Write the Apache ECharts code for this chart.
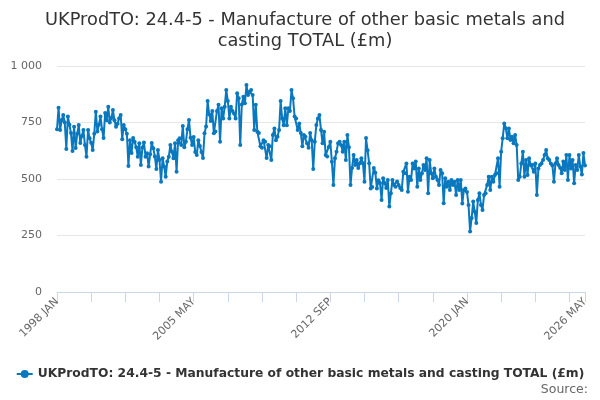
<!DOCTYPE html>
<html lang="en">
<head>
    <meta charset="UTF-8">
    <title>UKProdTO: 24.4-5</title>
    <script src="https://cdn.jsdelivr.net/npm/echarts@6/dist/echarts.min.js"></script>
    <style>
        html, body { margin: 0; padding: 0; background: #fff; }
        #chart { width: 600px; height: 400px; }
    </style>
</head>
<body>
    <div id="chart"></div>
    <script>
        const seriesName = 'UKProdTO: 24.4-5 - Manufacture of other basic metals and casting TOTAL (£m)';
        const monthNames = ['JAN', 'FEB', 'MAR', 'APR', 'MAY', 'JUN', 'JUL', 'AUG', 'SEP', 'OCT', 'NOV', 'DEC'];
        const firstYear = 1998;

        // monthly values (£m), one array per year
        const y1998 = [720, 815, 717, 760, 783, 750, 633, 776, 740, 703, 624, 731];
        const y1999 = [637, 700, 739, 659, 690, 717, 650, 599, 717, 680, 660, 628];
        const y2000 = [700, 798, 710, 740, 776, 720, 681, 792, 760, 820, 750, 770];
        const y2001 = [805, 760, 731, 745, 769, 783, 676, 739, 720, 700, 557, 672];
        const y2002 = [615, 681, 665, 640, 599, 658, 562, 639, 661, 599, 614, 555];
        const y2003 = [610, 659, 636, 600, 544, 628, 584, 488, 592, 555, 510, 577];
        const y2004 = [599, 650, 621, 592, 658, 532, 672, 680, 650, 735, 640, 665];
        const y2005 = [720, 761, 682, 650, 686, 620, 606, 672, 646, 620, 593, 702];
        const y2006 = [732, 845, 786, 757, 801, 702, 710, 801, 828, 665, 813, 768];
        const y2007 = [820, 894, 845, 768, 820, 801, 790, 768, 879, 857, 650, 830];
        const y2008 = [864, 835, 916, 872, 886, 894, 872, 717, 828, 709, 703, 645];
        const y2009 = [638, 672, 665, 593, 650, 645, 584, 695, 724, 672, 687, 717];
        const y2010 = [845, 768, 738, 813, 738, 813, 801, 894, 857, 776, 768, 717];
        const y2011 = [746, 703, 645, 695, 687, 658, 638, 703, 672, 544, 665, 739];
        const y2012 = [768, 783, 717, 658, 709, 606, 600, 642, 665, 576, 473, 592];
        const y2013 = [621, 658, 665, 650, 621, 665, 584, 695, 640, 473, 549, 606];
        const y2014 = [562, 584, 549, 570, 592, 570, 488, 681, 627, 570, 458, 465];
        const y2015 = [549, 528, 458, 495, 482, 407, 503, 482, 460, 496, 378, 437];
        const y2016 = [496, 474, 466, 489, 474, 460, 451, 532, 525, 569, 444, 510];
        const y2017 = [496, 569, 547, 577, 466, 547, 496, 525, 562, 540, 592, 437];
        const y2018 = [584, 525, 503, 547, 510, 496, 474, 540, 525, 393, 503, 466];
        const y2019 = [488, 451, 496, 474, 488, 429, 496, 451, 496, 392, 451, 458];
        const y2020 = [443, 385, 268, 327, 400, 355, 305, 407, 437, 385, 363, 429];
        const y2021 = [437, 474, 510, 451, 510, 488, 518, 525, 592, 466, 621, 680];
        const y2022 = [746, 725, 680, 724, 673, 687, 658, 695, 650, 496, 510, 569];
        const y2023 = [621, 510, 584, 518, 592, 562, 562, 532, 569, 429, 547, 562];
        const y2024 = [569, 584, 606, 628, 592, 584, 569, 560, 488, 569, 592, 562];
        const y2025 = [550, 525, 577, 540, 606, 496, 606, 547, 584, 481, 562, 540];
        const y2026 = [606, 555, 520, 615, 560];

        const years = [y1998, y1999, y2000, y2001, y2002, y2003, y2004, y2005, y2006, y2007,
            y2008, y2009, y2010, y2011, y2012, y2013, y2014, y2015, y2016, y2017,
            y2018, y2019, y2020, y2021, y2022, y2023, y2024, y2025, y2026];

        const yTicks = [0, 250, 500, 750, 1000];

        let categories = [];
        let values = [];
        years.forEach((arr, k) => {
            arr.forEach((v, m) => {
                categories.push((firstYear + k) + ' ' + monthNames[m]);
                values.push(v);
            });
        });
        const last = categories.length - 1;

        const font = 'DejaVu Sans';
        const chart = echarts.init(document.getElementById('chart'));
        chart.setOption({
            animation: false,
            title: [{
                text: 'UKProdTO: 24.4-5 - Manufacture of other basic metals and\ncasting TOTAL (£m)',
                left: 300,
                top: 5,
                textAlign: 'center',
                textStyle: { fontFamily: font, fontSize: 17.8, fontWeight: 'normal', color: '#333333', lineHeight: 21 }
            }, {
                text: 'Source:',
                right: 12,
                bottom: 4,
                padding: 0,
                textStyle: { fontFamily: font, fontSize: 12.5, fontWeight: 'normal', color: '#666666' }
            }],
            legend: {
                bottom: 15,
                left: 'center',
                itemWidth: 16,
                itemHeight: 10,
                itemGap: 8,
                textStyle: { fontFamily: font, fontSize: 12.3, fontWeight: 'bold', color: '#333333' },
                data: [seriesName]
            },
            grid: { left: 57, right: 15, top: 66, bottom: 108, containLabel: false },
            xAxis: {
                type: 'category',
                data: categories,
                boundaryGap: false,
                axisLine: { lineStyle: { color: '#ccd6eb' } },
                axisTick: {
                    length: 10,
                    lineStyle: { color: '#ccd6eb' },
                    interval: (i) => i % 22 === 0 || i === last
                },
                axisLabel: {
                    rotate: 45,
                    margin: 8,
                    color: '#666666',
                    fontFamily: font,
                    fontSize: 11,
                    interval: (i) => i % 88 === 0 || i === last
                },
                splitLine: { show: false }
            },
            yAxis: {
                type: 'value',
                min: yTicks[0],
                max: yTicks[yTicks.length - 1],
                interval: 250,
                axisLine: { show: false },
                axisTick: { show: false },
                axisLabel: {
                    margin: 15,
                    color: '#666666',
                    fontFamily: font,
                    fontSize: 11,
                    formatter: v => v >= 1000 ? String(v).replace(/\B(?=(\d{3})+(?!\d))/g, ' ') : String(v)
                },
                splitLine: { lineStyle: { color: '#e6e6e6' } }
            },
            series: [{
                name: seriesName,
                type: 'line',
                data: values,
                symbol: 'circle',
                symbolSize: 4,
                showSymbol: true,
                showAllSymbol: true,
                lineStyle: { width: 2, color: '#0a78be' },
                itemStyle: { color: '#0a78be' }
            }]
        });
    </script>
</body>
</html>
